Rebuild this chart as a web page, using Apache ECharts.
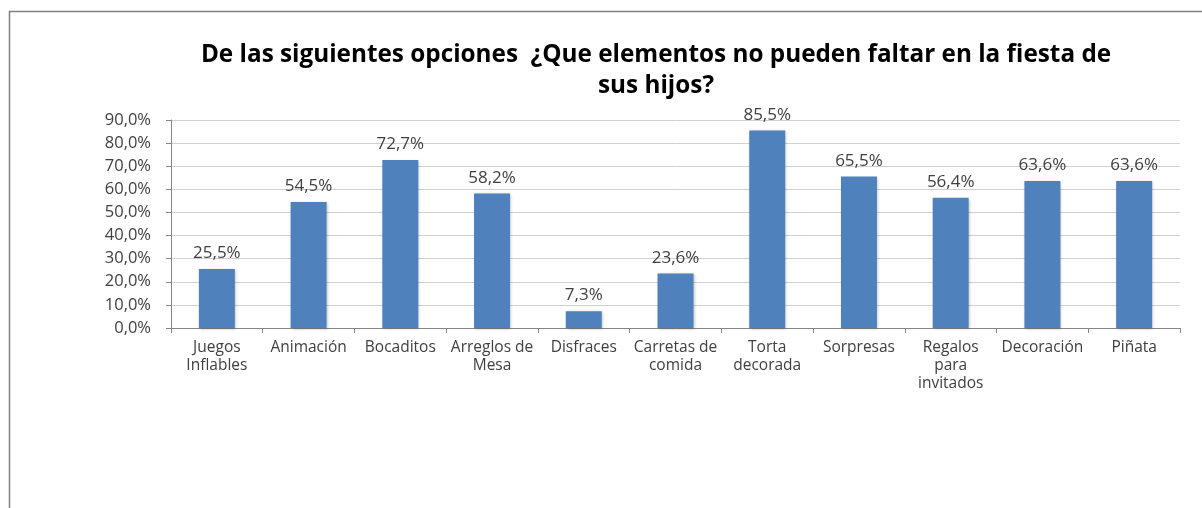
<!DOCTYPE html>
<html>
<head>
<meta charset="utf-8">
<script src="https://cdn.jsdelivr.net/npm/echarts@6/dist/echarts.min.js"></script>
<style>
html,body{margin:0;padding:0;background:#fff;}
#c{width:1202px;height:508px;}
</style>
</head>
<body>
<div id="c"></div>
<script>
const titleText = "De las siguientes opciones  ¿Que elementos no pueden faltar en la fiesta de\nsus hijos?";
const categories = ["Juegos\nInflables", "Animación", "Bocaditos", "Arreglos de\nMesa", "Disfraces", "Carretas de\ncomida", "Torta\ndecorada", "Sorpresas", "Regalos\npara\ninvitados", "Decoración", "Piñata"];
const values = [25.5, 54.5, 72.7, 58.2, 7.3, 23.6, 85.5, 65.5, 56.4, 63.6, 63.6];
const yMin = 0, yMax = 90, yStep = 10;

const fmt = v => v.toFixed(1).replace('.', ',') + '%';
const FONT = '"Open Sans", sans-serif';

const chart = echarts.init(document.getElementById('c'), null, {renderer: 'canvas'});
chart.setOption({
  animation: false,
  textStyle: {fontFamily: FONT},
  title: {
    text: titleText,
    left: 651, top: 35, textAlign: 'center',
    textStyle: {fontFamily: FONT, fontSize: 24.3, fontWeight: 'bold', color: '#000', lineHeight: 31}
  },
  graphic: [{
    type: 'polyline',
    shape: {points: [[9.5, 508], [9.5, 11.5], [1202, 11.5]]},
    style: {stroke: '#808080', lineWidth: 1.5, fill: null},
    silent: true
  }],
  grid: {left: 171, right: 22, top: 120, bottom: 180, containLabel: false},
  xAxis: {
    type: 'category',
    data: categories,
    axisLine: {lineStyle: {color: '#868686'}},
    axisTick: {show: true, alignWithLabel: false, length: 5, lineStyle: {color: '#868686'}},
    axisLabel: {interval: 0, color: '#404040', fontSize: 15.5, lineHeight: 18, margin: 11, fontFamily: FONT}
  },
  yAxis: {
    type: 'value',
    min: yMin, max: yMax, interval: yStep,
    axisLine: {show: true, lineStyle: {color: '#868686'}},
    axisTick: {show: true, length: 5, lineStyle: {color: '#868686'}},
    axisLabel: {color: '#404040', fontSize: 16.5, margin: 20, fontFamily: FONT, formatter: v => fmt(v)},
    splitLine: {lineStyle: {color: '#d0d0d0'}}
  },
  series: [{
    type: 'bar',
    data: values,
    barWidth: 36,
    itemStyle: {color: '#4F81BD', shadowColor: 'rgba(0,0,0,0.25)', shadowBlur: 3, shadowOffsetX: 1, shadowOffsetY: 1},
    label: {show: true, position: 'top', distance: 7, color: '#404040', fontSize: 17, fontFamily: FONT, formatter: p => fmt(p.value)}
  }]
});
</script>
</body>
</html>
